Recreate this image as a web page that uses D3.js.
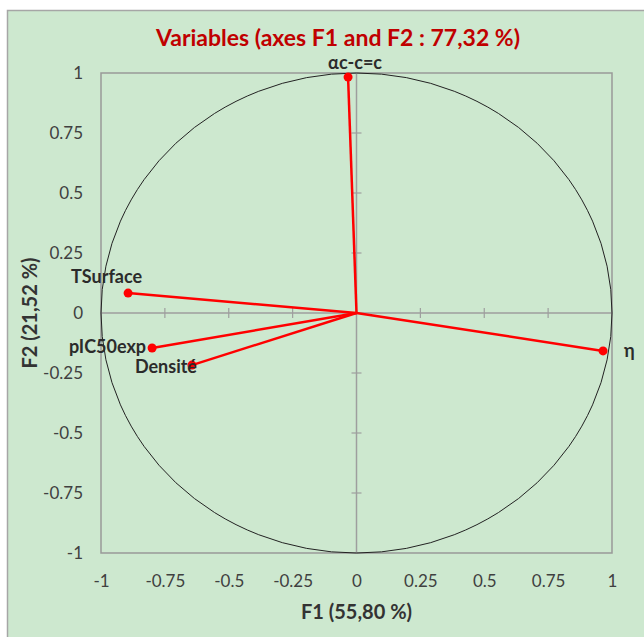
<!doctype html>
<html>
<head>
    <script src="https://d3js.org/d3.v7.min.js"></script>
    <style>
        body { margin: 0; background: #fff; }
        text { font-family: Lato, "Open Sans", sans-serif; }
    </style>
</head>
<body>
    <script>
        // variables du cercle de correlation
        var variables = ["αc-c=c", "TSurface", "pIC50exp", "Densité", "η"];
        var f1 = [-0.033, -0.894, -0.800, -0.644, 0.965];
        var f2 = [0.983, 0.083, -0.146, -0.217, -0.158];

        var xTicks = [-1, -0.75, -0.5, -0.25, 0, 0.25, 0.5, 0.75, 1];
        var yTicks = [-1, -0.75, -0.5, -0.25, 0, 0.25, 0.5, 0.75, 1];

        var titre = "Variables (axes F1 and F2 : 77,32 %)";
        var titreX = "F1 (55,80 %)";
        var titreY = "F2 (21,52 %)";

        var width = 644;
        var height = 637;

        var x = d3.scaleLinear().domain([-1, 1]).range([101, 612]);
        var y = d3.scaleLinear().domain([-1, 1]).range([553, 73]);

        var svg = d3.select("body").append("svg")
                    .attr("width", width)
                    .attr("height", height);

        // fond vert du graphique
        svg.append("rect")
            .attr("x", 7.5).attr("y", 10.5)
            .attr("width", width).attr("height", height)
            .attr("fill", "#cde8cf")
            .attr("stroke", "#a6a6a6")
            .attr("stroke-width", 1.5);

        svg.append("text")
            .attr("x", 338).attr("y", 46)
            .attr("text-anchor", "middle")
            .attr("font-size", 23)
            .attr("font-weight", "bold")
            .attr("fill", "#c00000")
            .text(titre);

        // zone de trace
        svg.append("rect")
            .attr("x", x(-1)).attr("y", y(1))
            .attr("width", x(1) - x(-1)).attr("height", y(-1) - y(1))
            .attr("fill", "none")
            .attr("stroke", "#999")
            .attr("stroke-width", 1.5);

        // axes centraux
        svg.append("line")
            .attr("x1", x(-1)).attr("x2", x(1))
            .attr("y1", y(0)).attr("y2", y(0))
            .attr("stroke", "#9e9e9e").attr("stroke-width", 1.5);
        svg.append("line")
            .attr("x1", x(0)).attr("x2", x(0))
            .attr("y1", y(-1)).attr("y2", y(1))
            .attr("stroke", "#9e9e9e").attr("stroke-width", 1.5);

        svg.selectAll(".tx").data(xTicks.filter(function(d){ return d != 0 && Math.abs(d) != 1 }))
            .enter().append("line")
            .attr("x1", function(d){ return x(d) }).attr("x2", function(d){ return x(d) })
            .attr("y1", y(0) - 5).attr("y2", y(0) + 5)
            .attr("stroke", "#9e9e9e").attr("stroke-width", 1.2);

        svg.selectAll(".ty").data(yTicks.filter(function(d){ return d != 0 && Math.abs(d) != 1 }))
            .enter().append("line")
            .attr("y1", function(d){ return y(d) }).attr("y2", function(d){ return y(d) })
            .attr("x1", x(0) - 5).attr("x2", x(0) + 5)
            .attr("stroke", "#9e9e9e").attr("stroke-width", 1.2);

        // cercle (ellipse car echelles differentes)
        svg.append("ellipse")
            .attr("cx", x(0)).attr("cy", y(0))
            .attr("rx", x(1) - x(0)).attr("ry", y(0) - y(1))
            .attr("fill", "none")
            .attr("stroke", "#222")
            .attr("stroke-width", 1);

        // etiquettes des axes
        var axeX = svg.append("g")
            .attr("transform", "translate(0, 572)")
            .call(d3.axisBottom(x).tickValues(xTicks).tickSize(0).tickFormat(function(d){ return String(d) }));
        var axeY = svg.append("g")
            .attr("transform", "translate(83, 0)")
            .call(d3.axisLeft(y).tickValues(yTicks).tickSize(0).tickPadding(0).tickFormat(function(d){ return String(d) }));
        [axeX, axeY].forEach(function(g){
            g.select(".domain").remove();
            g.selectAll("text")
                .attr("font-family", "Lato, sans-serif")
                .attr("font-size", 17)
                .attr("fill", "#404040");
        });

        svg.append("text")
            .attr("x", x(0)).attr("y", 619)
            .attr("text-anchor", "middle")
            .attr("font-size", 20).attr("font-weight", "bold")
            .attr("fill", "#333")
            .text(titreX);

        svg.append("text")
            .attr("transform", "translate(37, " + y(0) + ") rotate(-90)")
            .attr("text-anchor", "middle")
            .attr("font-size", 20).attr("font-weight", "bold")
            .attr("fill", "#333")
            .text(titreY);

        // vecteurs
        var pts = variables.map(function(v, i){ return { nom: v, f1: f1[i], f2: f2[i] } });

        svg.selectAll(".vec").data(pts).enter().append("line")
            .attr("x1", x(0)).attr("y1", y(0))
            .attr("x2", function(d){ return x(d.f1) })
            .attr("y2", function(d){ return y(d.f2) })
            .attr("stroke", "#ff0000")
            .attr("stroke-width", 2.5);

        svg.selectAll(".pt").data(pts).enter().append("circle")
            .attr("cx", function(d){ return x(d.f1) })
            .attr("cy", function(d){ return y(d.f2) })
            .attr("r", 4.5)
            .attr("fill", "#ff0000");

        // placement des etiquettes (a la main, comme dans Excel)
        var place = {
            "αc-c=c":  { dx: 7,   dy: -8, anchor: "middle" },
            "TSurface": { dx: 14,  dy: -10, anchor: "end" },
            "pIC50exp": { dx: -6,  dy: 5,  anchor: "end" },
            "Densité":  { dx: 5,   dy: 8,  anchor: "end" },
            "η":        { dx: 21,  dy: 6,  anchor: "start" }
        };

        svg.selectAll(".lab").data(pts).enter().append("text")
            .attr("x", function(d){ return x(d.f1) + place[d.nom].dx })
            .attr("y", function(d){ return y(d.f2) + place[d.nom].dy })
            .attr("text-anchor", function(d){ return place[d.nom].anchor })
            .attr("font-size", 18)
            .attr("font-weight", "bold")
            .attr("fill", "#2b2b2b")
            .text(function(d){ return d.nom });
    </script>
</body>
</html>
